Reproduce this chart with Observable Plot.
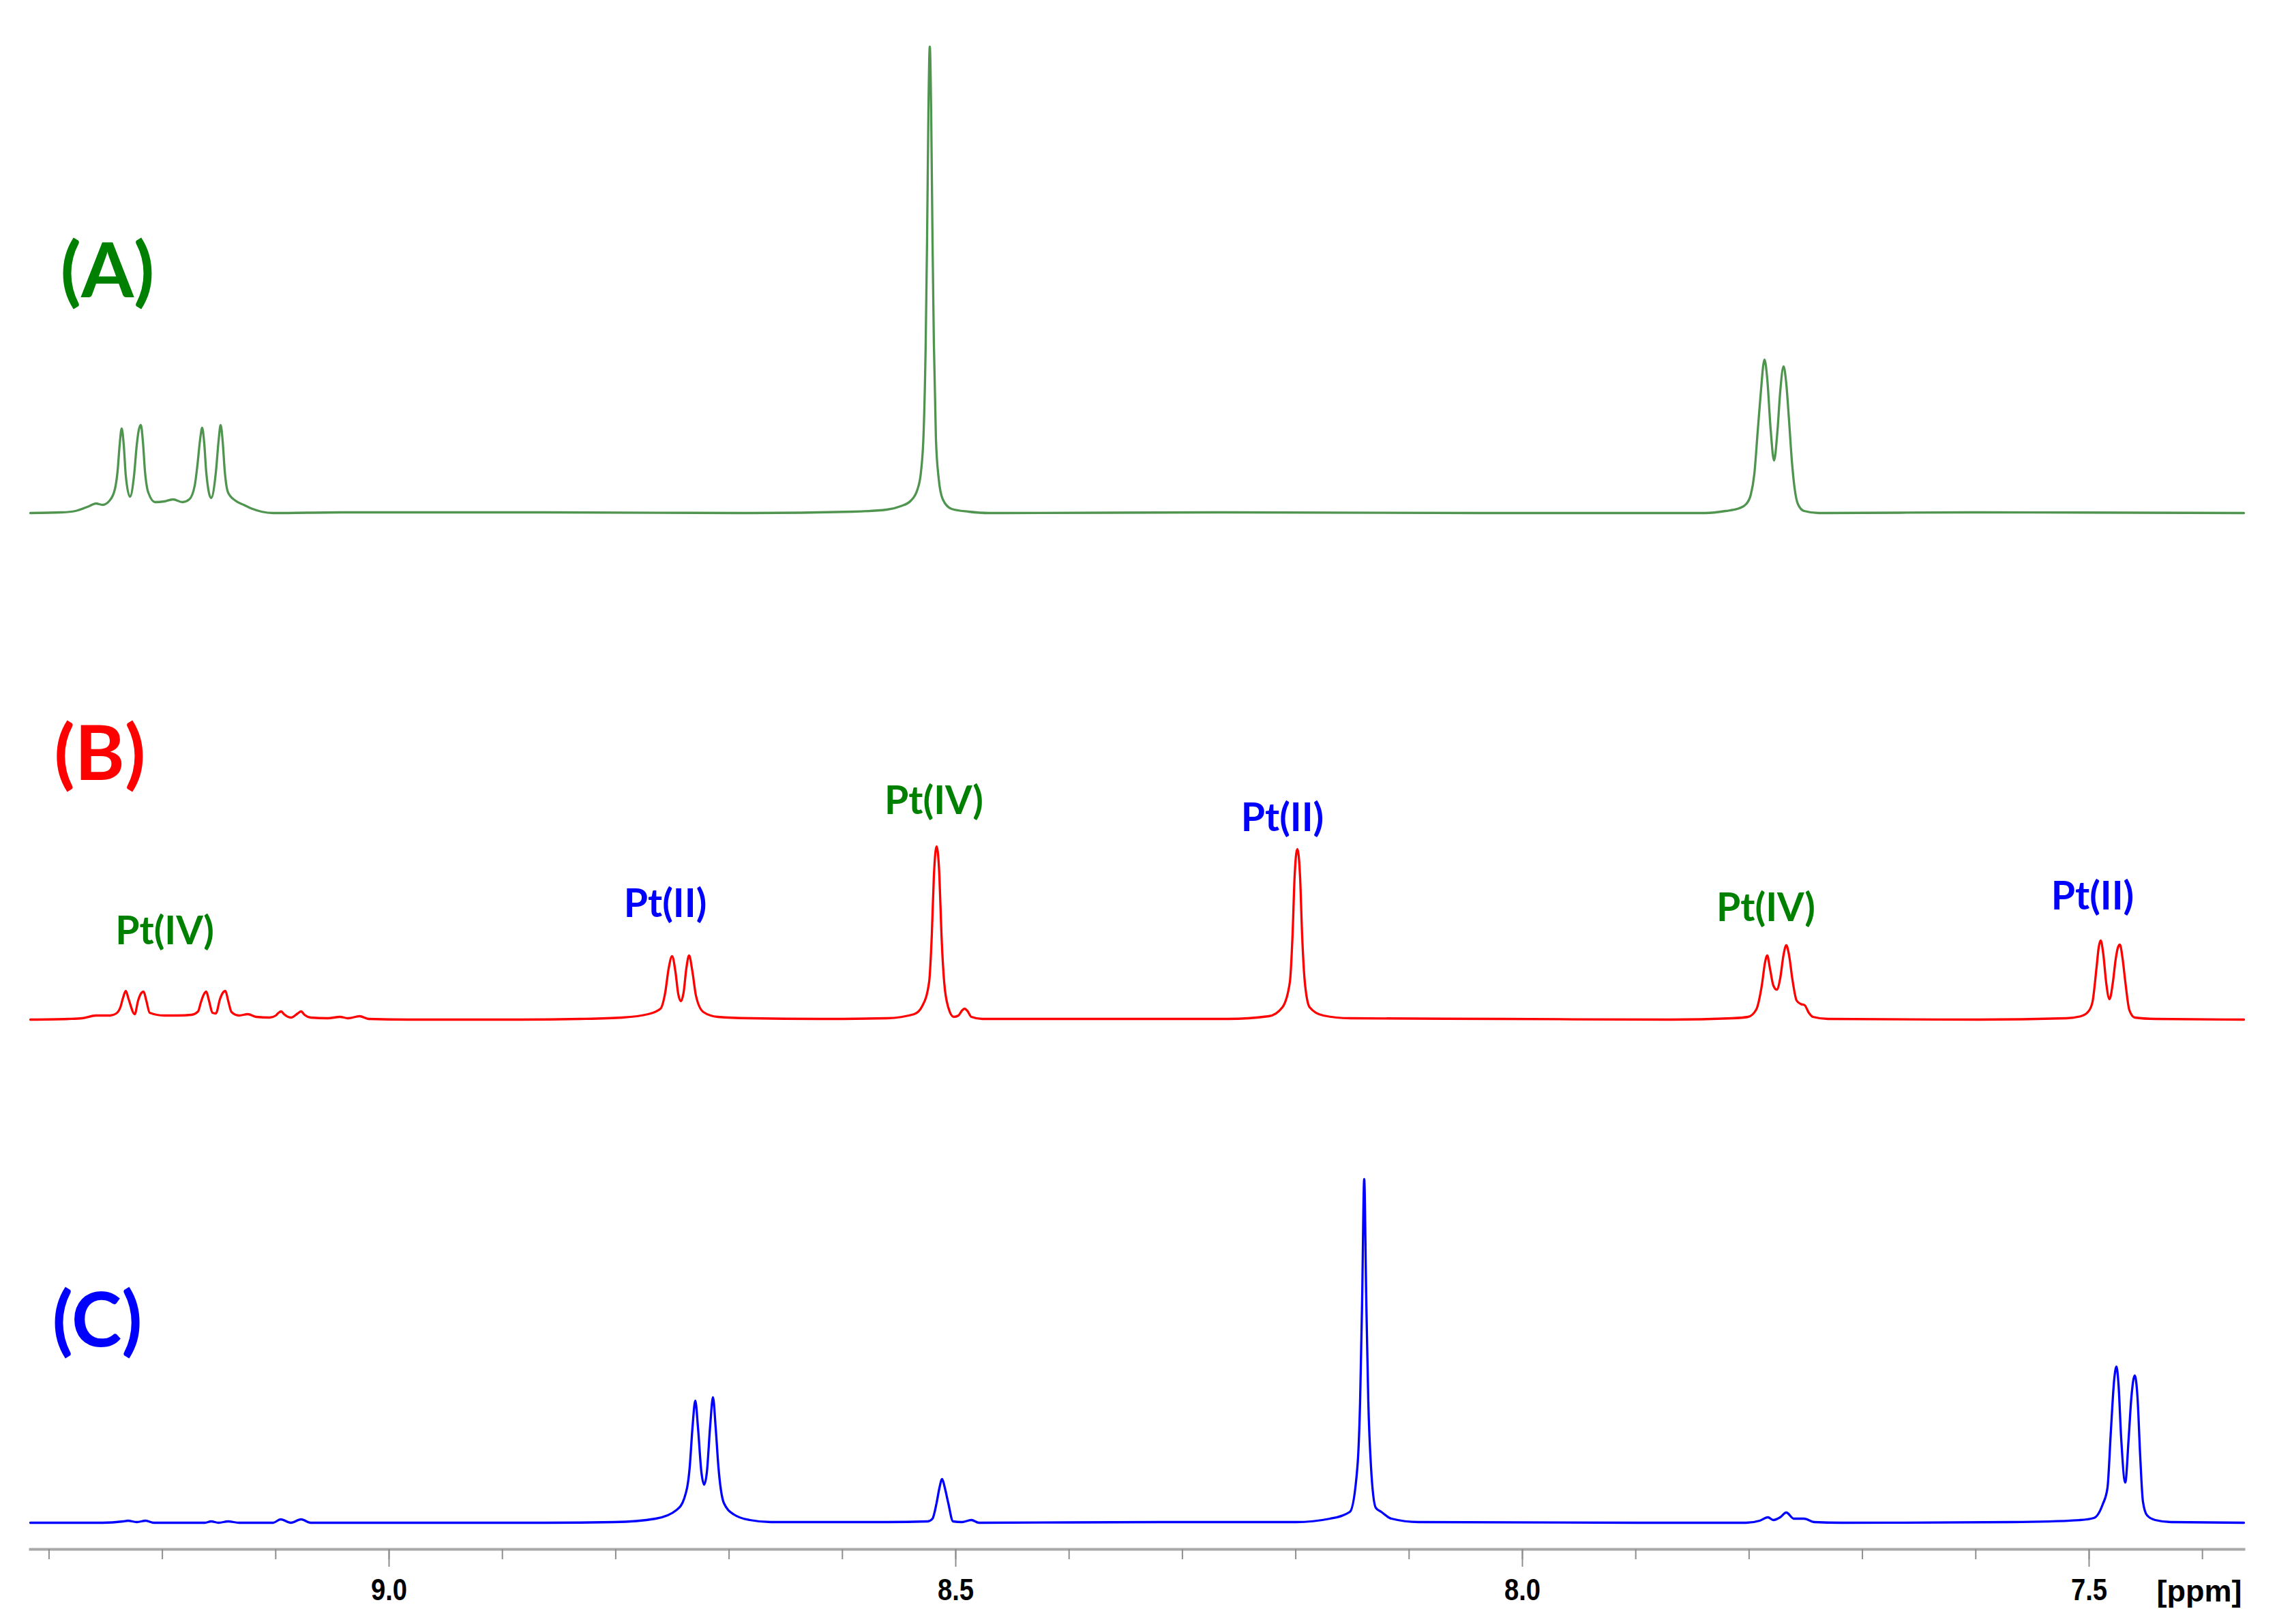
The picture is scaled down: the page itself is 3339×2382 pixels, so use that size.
<!DOCTYPE html>
<html><head><meta charset="utf-8">
<script src="https://cdn.jsdelivr.net/npm/d3@7"></script>
<script src="https://cdn.jsdelivr.net/npm/@observablehq/plot@0.6"></script>
<style>
html,body{margin:0;padding:0;background:#fff;}
#chart svg{display:block;}
</style></head><body><div id="chart"></div>
<script>
// ---- data: [chemical shift (ppm), intensity (a.u.)] ----
const specA = [[9.3165,0],[9.2888,1],[9.2768,3],[9.2647,10],[9.2587,14],[9.2527,12],[9.2467,18],[9.2419,35],[9.2395,62],[9.2377,100],[9.2359,124],[9.2341,100],[9.2323,55],[9.2286,24],[9.2250,55],[9.2226,100],[9.2208,122],[9.2190,129],[9.2172,105],[9.2154,62],[9.2124,30],[9.2064,16],[9.1986,17],[9.1907,20],[9.1823,16],[9.1763,20],[9.1715,40],[9.1691,70],[9.1667,108],[9.1649,125],[9.1631,103],[9.1613,60],[9.1570,22],[9.1528,60],[9.1504,106],[9.1486,129],[9.1468,105],[9.1450,62],[9.1420,30],[9.1354,18],[9.1282,12],[9.1203,6],[9.1125,2],[9.1023,0],[9.0421,1],[8.8616,1],[8.6811,0],
[8.5909,2],[8.5608,5],[8.5487,10],[8.5397,18],[8.5337,35],[8.5307,60],[8.5283,120],[8.5265,250],[8.5253,400],[8.5241,590],[8.5229,684],[8.5217,590],[8.5205,400],[8.5193,250],[8.5175,110],[8.5150,50],[8.5114,20],[8.5036,6],[8.4886,2],[8.4705,0],[8.2599,1],[8.0193,0],
[7.8388,0],[7.8207,3],[7.8087,7],[7.8027,13],[7.7985,27],[7.7954,57],[7.7924,120],[7.7900,170],[7.7864,225],[7.7840,197],[7.7810,123],[7.7780,77],[7.7750,120],[7.7726,177],[7.7696,215],[7.7672,190],[7.7648,137],[7.7623,77],[7.7599,37],[7.7569,13],[7.7515,3],[7.7383,0],[7.5981,1],[7.3634,0]];

const specB = [[9.3165,0],[9.2828,1],[9.2708,2],[9.2587,6],[9.2461,6],[9.2407,9],[9.2371,18],[9.2347,32],[9.2323,42],[9.2298,30],[9.2244,8],[9.2214,28],[9.2190,38],[9.2166,41],[9.2142,28],[9.2112,10],[9.1986,6],[9.1865,6],[9.1745,7],[9.1685,12],[9.1661,25],[9.1637,36],[9.1613,41],[9.1589,28],[9.1558,10],[9.1528,9],[9.1492,30],[9.1468,39],[9.1444,42],[9.1420,28],[9.1390,11],[9.1324,6],[9.1246,8],[9.1173,4],[9.1053,3],[9.0999,6],[9.0975,10],[9.0951,12],[9.0927,8],[9.0866,3],[9.0806,9],[9.0776,12],[9.0746,7],[9.0692,3],[9.0542,2],[9.0433,4],[9.0361,2],[9.0259,5],[9.0181,1],[8.9820,0],[8.8917,0],[8.8315,1],
[8.7942,3],[8.7714,8],[8.7605,16],[8.7563,40],[8.7533,75],[8.7503,93],[8.7473,70],[8.7449,38],[8.7425,27],[8.7401,40],[8.7377,75],[8.7353,94],[8.7323,70],[8.7292,35],[8.7226,11],[8.7100,4],[8.6811,2],[8.6209,1],
[8.5608,2],[8.5367,8],[8.5295,20],[8.5235,55],[8.5211,125],[8.5193,210],[8.5169,254],[8.5144,210],[8.5126,125],[8.5102,55],[8.5066,18],[8.5018,4],[8.4976,6],[8.4946,13],[8.4922,16],[8.4898,13],[8.4862,4],[8.4765,1],[8.3803,1],
[8.2599,1],[8.2238,5],[8.2118,18],[8.2052,55],[8.2028,125],[8.2010,210],[8.1986,250],[8.1962,210],[8.1944,125],[8.1920,55],[8.1877,18],[8.1757,6],[8.1516,2],[8.0193,1],
[7.8688,0],[7.8147,2],[7.8009,4],[7.7936,15],[7.7888,50],[7.7858,85],[7.7840,94],[7.7816,75],[7.7786,50],[7.7756,44],[7.7726,60],[7.7696,95],[7.7672,109],[7.7648,95],[7.7617,58],[7.7581,28],[7.7545,23],[7.7509,21],[7.7473,10],[7.7437,4],[7.7305,1],[7.5981,0],
[7.5199,2],[7.5072,5],[7.5006,12],[7.4970,26],[7.4934,77],[7.4916,105],[7.4898,116],[7.4874,95],[7.4850,55],[7.4820,30],[7.4790,55],[7.4766,88],[7.4747,105],[7.4729,110],[7.4705,90],[7.4681,56],[7.4645,14],[7.4597,3],[7.4417,1],[7.3634,0]];

const specC = [[9.3165,1],[9.2527,1],[9.2347,3],[9.2304,4],[9.2226,2],[9.2148,4],[9.2076,1],[9.1625,1],[9.1570,3],[9.1504,1],[9.1420,3],[9.1324,1],[9.1023,1],[9.0957,6],[9.0866,1],[9.0776,6],[9.0692,1],[8.9820,1],[8.8616,1],
[8.8014,2],[8.7648,7],[8.7461,20],[8.7395,37],[8.7347,83],[8.7323,140],[8.7298,180],[8.7274,140],[8.7244,75],[8.7220,57],[8.7196,75],[8.7166,145],[8.7142,185],[8.7118,140],[8.7094,83],[8.7046,30],[8.6956,13],[8.6817,5],[8.6631,2],
[8.5608,2],[8.5247,3],[8.5205,7],[8.5169,30],[8.5144,52],[8.5120,65],[8.5096,52],[8.5066,30],[8.5024,3],[8.4946,2],[8.4862,5],[8.4795,1],[8.3201,2],
[8.1998,2],[8.1697,7],[8.1522,17],[8.1456,83],[8.1432,180],[8.1414,330],[8.1396,505],[8.1378,330],[8.1360,180],[8.1336,83],[8.1294,23],[8.1246,17],[8.1155,7],[8.0915,2],
[7.8989,1],[7.8027,1],[7.7906,4],[7.7834,9],[7.7786,5],[7.7726,9],[7.7672,16],[7.7605,7],[7.7515,7],[7.7425,2],[7.7184,1],
[7.5680,2],[7.5078,5],[7.4958,8],[7.4880,28],[7.4838,52],[7.4808,135],[7.4778,212],[7.4759,230],[7.4741,205],[7.4717,125],[7.4681,60],[7.4651,125],[7.4627,185],[7.4597,217],[7.4573,185],[7.4549,98],[7.4525,32],[7.4489,12],[7.4417,5],[7.4278,2],[7.3634,1]];

const minorTicks = [9.3,9.2,9.1,9.0,8.9,8.8,8.7,8.6,8.5,8.4,8.3,8.2,8.1,8.0,7.9,7.8,7.7,7.6,7.5,7.4];
const majorTicks = [9.0,8.5,8.0,7.5];
const axisUnit = "[ppm]";

const panelNames = ["(A)","(B)","(C)"];
const panelPpm = [9.2485,9.2552,9.2575];
const panelHeight = [317,352,260];

const ptText = ["Pt(IV)","Pt(II)","Pt(IV)","Pt(II)","Pt(IV)","Pt(II)"];
const ptPpm = [9.1979,8.7563,8.5193,8.2118,7.7852,7.4970];
const ptHeight = [111,151,302,277,145,162];

// ---- layout / style ----
const offsets = {A: 1482, B: 739, C: 0};
const colors = {A: "#4f944f", B: "#ff0000", C: "#0000ff"};
const panelColors = ["#008000","#ff0000","#0000ff"];
const ptColor = t => t === "Pt(IV)" ? "#008000" : "#0000ff";
const tickFont = "'Liberation Sans',Arial,sans-serif";
const labelFont = "Lato,'Open Sans',sans-serif";

const toRows = (arr, key) => arr.map(([ppm, v]) => ({ppm, v: v + offsets[key]}));
const panels = panelNames.map((label, i) => ({label, ppm: panelPpm[i], v: panelHeight[i] + offsets["ABC"[i]], color: panelColors[i]}));
const pts = ptText.map((label, i) => ({label, ppm: ptPpm[i], v: ptHeight[i] + offsets.B}));

const chart = Plot.plot({
  width: 3339,
  height: 2382,
  marginLeft: 44,
  marginRight: 49,
  marginTop: 40,
  marginBottom: 110,
  style: {background: "#fff", fontFamily: tickFont},
  x: {domain: [9.3165, 7.3634]},
  y: {domain: [-38, 2194], axis: null},
  marks: [
    Plot.frame({anchor: "bottom", stroke: "#a9a9a9", strokeWidth: 4}),
    Plot.axisX(minorTicks, {tickSize: 15, tickFormat: () => "", stroke: "#8f8f8f", strokeWidth: 2, label: null}),
    Plot.axisX(majorTicks, {tickSize: 26, tickPadding: 17, tickFormat: d3.format(".1f"), stroke: "#8f8f8f", strokeWidth: 2,
      fill: "#000", fontSize: 45, fontWeight: "bold", fontFamily: tickFont, label: null}),
    Plot.text([axisUnit], {frameAnchor: "bottom-right", lineAnchor: "bottom", dy: 76, dx: -3, text: d => d, textAnchor: "end", ariaLabel: "unit",
      fill: "#000", fontSize: 45, fontWeight: "bold", fontFamily: tickFont}),
    Plot.line(toRows(specA, "A"), {x: "ppm", y: "v", stroke: colors.A, strokeWidth: 3.3, curve: "monotone-x"}),
    Plot.line(toRows(specB, "B"), {x: "ppm", y: "v", stroke: colors.B, strokeWidth: 3.3, curve: "monotone-x"}),
    Plot.line(toRows(specC, "C"), {x: "ppm", y: "v", stroke: colors.C, strokeWidth: 3.3, curve: "monotone-x"}),
    Plot.text(panels, {x: "ppm", y: "v", text: "label", fill: d => d.color, fontSize: 111, fontWeight: "bold",
      fontFamily: labelFont, lineAnchor: "bottom", textAnchor: "middle"}),
    Plot.text(pts, {x: "ppm", y: "v", text: "label", fill: d => ptColor(d.label), fontSize: 57, fontWeight: "bold",
      fontFamily: labelFont, lineAnchor: "bottom", textAnchor: "middle"})
  ]
});

// condense the axis typeface horizontally (narrow font look); keep each text's own x/y/dy
function condense(nodes, k) {
  nodes.each(function() {
    const t = this.getAttribute("transform") || "";
    this.setAttribute("transform", `${t} scale(${k},1)`);
  });
}
condense(d3.select(chart).selectAll('g[aria-label="x-axis tick label"] text'), 0.85);
condense(d3.select(chart).selectAll('g[aria-label="unit"] text'), 0.85);

document.getElementById("chart").appendChild(chart);
</script>
</body></html>
